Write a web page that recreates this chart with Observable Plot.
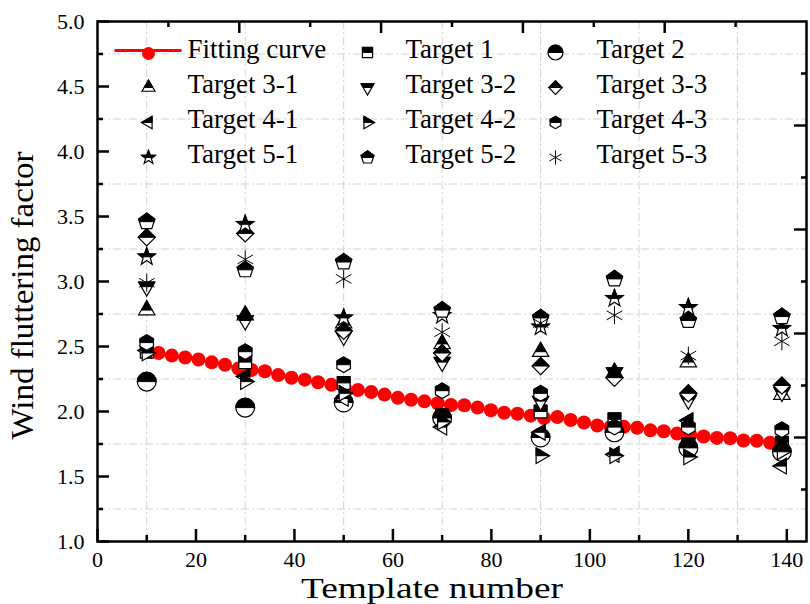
<!DOCTYPE html>
<html><head><meta charset="utf-8">
<script src="https://cdn.jsdelivr.net/npm/d3@7"></script>
<script src="https://cdn.jsdelivr.net/npm/@observablehq/plot@0.6"></script>
<style>body{margin:0;background:#fff}</style>
</head><body><div id="chart"></div>
<script>
// ---------- data ----------
const templatePositions = [10, 30, 50, 70, 90, 105, 120, 139];
const target1  = [2.46, 2.38, 2.22, 1.97, 2.00, 1.94, 1.75, 1.76];
const target2  = [2.23, 2.03, 2.07, 1.95, 1.80, 1.84, 1.72, 1.69];
const target31 = [2.78, 2.74, 2.68, 2.52, 2.46, 2.30, 2.38, 2.13];
const target32 = [2.96, 2.70, 2.58, 2.38, 2.08, 2.30, 2.09, 2.15];
const target33 = [3.34, 3.37, 2.62, 2.45, 2.35, 2.26, 2.14, 2.20];
const target41 = [2.47, 2.27, 2.10, 1.88, 1.84, 1.67, 1.93, 1.58];
const target42 = [2.45, 2.23, 2.14, 1.92, 1.66, 1.66, 1.65, 1.69];
const target43 = [2.53, 2.46, 2.36, 2.16, 2.14, 1.88, 1.88, 1.86];
const target51 = [3.19, 3.44, 2.72, 2.74, 2.65, 2.87, 2.80, 2.64];
const target52 = [3.46, 3.09, 3.15, 2.78, 2.72, 3.02, 2.70, 2.73];
const target53 = [2.99, 3.17, 3.02, 2.61, 2.68, 2.74, 2.43, 2.54];

const fitX = [12.4, 15.1, 17.8, 20.5, 23.2, 25.9, 28.6, 31.3, 34.0, 36.7, 39.4, 42.1, 44.8, 47.5, 50.2, 52.9,
  55.6, 58.3, 61.0, 63.7, 66.4, 69.1, 71.8, 74.5, 77.2, 79.9, 82.6, 85.3, 88.0, 90.7, 93.4, 96.1,
  98.8, 101.5, 104.2, 106.9, 109.6, 112.3, 115.0, 117.7, 120.4, 123.1, 125.8, 128.5, 131.2, 133.9, 136.6];
const fitY = [2.45, 2.43, 2.415, 2.40, 2.378, 2.36, 2.33, 2.32, 2.31, 2.28, 2.26, 2.245, 2.225, 2.205, 2.18, 2.165,
  2.15, 2.13, 2.105, 2.09, 2.078, 2.063, 2.05, 2.048, 2.03, 2.01, 1.99, 1.983, 1.968, 1.95, 1.957, 1.935,
  1.915, 1.892, 1.882, 1.882, 1.875, 1.855, 1.848, 1.83, 1.82, 1.808, 1.797, 1.794, 1.777, 1.775, 1.76];

const xTicksMajor = [0, 20, 40, 60, 80, 100, 120, 140];
const xTicksMinor = [10, 30, 50, 70, 90, 110, 130];
const yTicksMajor = [1.0, 1.5, 2.0, 2.5, 3.0, 3.5, 4.0, 4.5, 5.0];
const yTicksMinor = [1.25, 1.75, 2.25, 2.75, 3.25, 3.75, 4.25, 4.75];
const topTicksLong = [28.8, 57.6, 86.4, 115.2];
const topTicksShort = [14.4, 43.2, 72.0, 100.8, 129.6];
const rightTicksLong = [1.8, 2.6, 3.4, 4.2];
const rightTicksShort = [1.4, 2.2, 3.0, 3.8, 4.6];

const seriesNames = ["Target 1", "Target 2", "Target 3-1", "Target 3-2", "Target 3-3",
  "Target 4-1", "Target 4-2", "Target 4-3", "Target 5-1", "Target 5-2", "Target 5-3"];
const seriesValues = [target1, target2, target31, target32, target33, target41, target42, target43, target51, target52, target53];
const seriesShapes = ["square", "circle", "triUp", "triDown", "diamond", "triLeft", "triRight", "hexagon", "star", "pentagon", "asterisk"];
const fitLabel = "Fitting curve";
const xTitle = "Template number";
const yTitle = "Wind fluttering factor";

// ---------- symbols ----------
function clipTop(pts) {
  const out = [];
  for (let i = 0; i < pts.length; i++) {
    const a = pts[i], b = pts[(i + 1) % pts.length];
    const ain = a[1] <= 0, bin = b[1] <= 0;
    if (ain) out.push(a);
    if (ain !== bin) { const t = a[1] / (a[1] - b[1]); out.push([a[0] + t * (b[0] - a[0]), 0]); }
  }
  return out;
}
function regular(n, R, start) {
  const p = [];
  for (let k = 0; k < n; k++) { const a = start + k * 2 * Math.PI / n; p.push([R * Math.cos(a), R * Math.sin(a)]); }
  return p;
}
function starPts(R, ri) {
  const p = [];
  for (let k = 0; k < 10; k++) { const a = -Math.PI / 2 + k * Math.PI / 5; const rr = k % 2 ? ri : R; p.push([rr * Math.cos(a), rr * Math.sin(a)]); }
  return p;
}
const s3 = Math.sqrt(3) / 2;
const unitPolys = {
  square: [[-0.78, -0.78], [0.78, -0.78], [0.78, 0.78], [-0.78, 0.78]],
  triUp: [[0, -1.15], [1.15 * s3, 0.575], [-1.15 * s3, 0.575]],
  triDown: [[0, 1.15], [-1.15 * s3, -0.575], [1.15 * s3, -0.575]],
  triLeft: [[-1.1, 0], [0.55, -1.1 * s3], [0.55, 1.1 * s3]],
  triRight: [[1.1, 0], [-0.55, 1.1 * s3], [-0.55, -1.1 * s3]],
  diamond: [[0, -1.05], [1.05, 0], [0, 1.05], [-1.05, 0]],
  hexagon: regular(6, 0.95, -Math.PI / 2),
  pentagon: regular(5, 1.05, -Math.PI / 2),
  star: starPts(1.12, 0.46)
};
function makeSymbol(shape, half) {
  return {
    draw(ctx, size) {
      const r = Math.sqrt(size / Math.PI);
      if (shape === "circle") {
        const R = 1.15 * r;
        if (half) { ctx.moveTo(-R, 0); ctx.arc(0, 0, R, Math.PI, 2 * Math.PI); ctx.closePath(); }
        else { ctx.moveTo(R, 0); ctx.arc(0, 0, R, 0, 2 * Math.PI); ctx.closePath(); }
        return;
      }
      if (shape === "asterisk") {
        if (half) return;
        const L = 1.1 * r;
        for (const a of [90, 30, 150]) {
          const c = Math.cos(a * Math.PI / 180) * L, s = Math.sin(a * Math.PI / 180) * L;
          ctx.moveTo(-c, -s); ctx.lineTo(c, s);
        }
        return;
      }
      let pts = unitPolys[shape].map(([x, y]) => [x * r, y * r]);
      if (half) pts = clipTop(pts);
      if (pts.length < 3) return;
      ctx.moveTo(pts[0][0], pts[0][1]);
      for (let i = 1; i < pts.length; i++) ctx.lineTo(pts[i][0], pts[i][1]);
      ctx.closePath();
    }
  };
}
const legendLineSymbol = { draw(ctx) { ctx.moveTo(-34, 0); ctx.lineTo(33, 0); } };

// ---------- layout ----------
const width = 810, height = 604;
const mt = 21, mb = 63, ml = 97, mr = 4;
const H = height - mt - mb, W = width - ml - mr;
const font = "'Liberation Serif', 'Times New Roman', serif";
const MARKER_R = 8.2, LEGEND_R = 6.5;

const fitData = fitX.map((x, i) => ({x, y: fitY[i]}));

const marks = [];
// grid
marks.push(Plot.ruleX(xTicksMinor, {x: d => d, stroke: "#d2d2d2", strokeWidth: 1, strokeDasharray: "8,3,2,3"}));
marks.push(Plot.ruleY(yTicksMinor, {y: d => d, stroke: "#d2d2d2", strokeWidth: 1, strokeDasharray: "8,3,2,3"}));
// fitting curve
marks.push(Plot.line(fitData, {x: "x", y: "y", stroke: "red", strokeWidth: 2}));
marks.push(Plot.dot(fitData, {x: "x", y: "y", r: 7, fill: "red", stroke: "none"}));
// target series
seriesValues.forEach((vals, si) => {
  const data = templatePositions.map((x, i) => ({x, y: vals[i]}));
  const shape = seriesShapes[si];
  if (shape === "asterisk") {
    marks.push(Plot.dot(data, {x: "x", y: "y", r: MARKER_R, symbol: makeSymbol(shape, false), fill: "none", stroke: "black", strokeWidth: 1}));
  } else {
    marks.push(Plot.dot(data, {x: "x", y: "y", r: MARKER_R, symbol: makeSymbol(shape, false), fill: "white", stroke: "black", strokeWidth: 1.2}));
    marks.push(Plot.dot(data, {x: "x", y: "y", r: MARKER_R, symbol: makeSymbol(shape, true), fill: "black", stroke: "black", strokeWidth: 1}));
  }
});
// ticks (inward)
const tk = {stroke: "black", strokeWidth: 2.5};
marks.push(Plot.tickX(xTicksMajor, {x: d => d, insetTop: H - 12, ...tk}));
marks.push(Plot.tickX(xTicksMinor, {x: d => d, insetTop: H - 6, ...tk}));
marks.push(Plot.tickY(yTicksMajor, {y: d => d, insetRight: W - 12, ...tk}));
marks.push(Plot.tickY(yTicksMinor, {y: d => d, insetRight: W - 6, ...tk}));
marks.push(Plot.tickX(topTicksLong, {x: d => d, insetBottom: H - 12, ...tk}));
marks.push(Plot.tickX(topTicksShort, {x: d => d, insetBottom: H - 6, ...tk}));
marks.push(Plot.tickY(rightTicksLong, {y: d => d, insetLeft: W - 12, ...tk}));
marks.push(Plot.tickY(rightTicksShort, {y: d => d, insetLeft: W - 5, ...tk}));
marks.push(Plot.frame({stroke: "black", strokeWidth: 2.5}));
// tick labels (serif, drawn through the x / y scales)
marks.push(Plot.text(xTicksMajor, {x: d => d, frameAnchor: "bottom", text: d => String(d), dy: 10, lineAnchor: "top", textAnchor: "middle", fontSize: 22, fontFamily: font, fill: "black"}));
marks.push(Plot.text(yTicksMajor, {y: d => d, frameAnchor: "left", text: d3.format(".1f"), dx: -13, lineAnchor: "middle", textAnchor: "end", fontSize: 22, fontFamily: font, fill: "black"}));
// axis titles
marks.push(Plot.text([xTitle], {frameAnchor: "bottom", text: d => d, dx: -20, dy: 47, fontSize: 29, fontFamily: font, textAnchor: "middle", lineAnchor: "middle", fill: "black"}));
marks.push(Plot.text([yTitle], {frameAnchor: "left", text: d => d, rotate: -90, dx: -74, dy: 14, fontSize: 31, fontFamily: font, textAnchor: "middle", lineAnchor: "middle", fill: "black"}));

// legend
const legendEntries = [fitLabel, ...seriesNames];
const colMarkerX = [51, 270, 458], colTextX = [90, 308, 499];
const rowY = [28, 63, 98, 133];
legendEntries.forEach((name, idx) => {
  const row = Math.floor(idx / 3), col = idx % 3;
  const dx = colMarkerX[col], dy = rowY[row] + 1;
  if (idx === 0) {
    marks.push(Plot.dot([0], {frameAnchor: "top-left", dx: dx, dy: dy, symbol: legendLineSymbol, fill: "none", stroke: "red", strokeWidth: 3}));
    marks.push(Plot.dot([0], {frameAnchor: "top-left", dx: dx, dy: dy + 3, r: 6.5, fill: "red", stroke: "none"}));
  } else {
    const shape = seriesShapes[idx - 1];
    if (shape === "asterisk") {
      marks.push(Plot.dot([0], {frameAnchor: "top-left", dx, dy: dy + 2, r: LEGEND_R, symbol: makeSymbol(shape, false), fill: "none", stroke: "black", strokeWidth: 1}));
    } else {
      marks.push(Plot.dot([0], {frameAnchor: "top-left", dx, dy: dy + 2, r: LEGEND_R, symbol: makeSymbol(shape, false), fill: "white", stroke: "black", strokeWidth: 1.2}));
      marks.push(Plot.dot([0], {frameAnchor: "top-left", dx, dy: dy + 2, r: LEGEND_R, symbol: makeSymbol(shape, true), fill: "black", stroke: "black", strokeWidth: 1}));
    }
  }
  marks.push(Plot.text([name], {frameAnchor: "top-left", text: d => d, dx: colTextX[col], dy: rowY[row], fontSize: 27, fontFamily: font, textAnchor: "start", lineAnchor: "middle", fill: "black"}));
});

const chart = Plot.plot({
  width, height,
  marginTop: mt, marginBottom: mb, marginLeft: ml, marginRight: mr,
  style: {fontFamily: font, fontSize: "24px", color: "black", background: "white"},
  x: {domain: [0, 144], label: null, axis: null},
  y: {domain: [1, 5], label: null, axis: null},
  marks
});
// widen the axis titles like the reference's stretched lettering
d3.select(chart).selectAll("text").each(function () {
  if (this.textContent === xTitle) d3.select(this).attr("textLength", 262).attr("lengthAdjust", "spacingAndGlyphs");
  if (this.textContent === yTitle) d3.select(this).attr("textLength", 288).attr("lengthAdjust", "spacingAndGlyphs");
});
document.getElementById("chart").appendChild(chart);
</script>
</body></html>
